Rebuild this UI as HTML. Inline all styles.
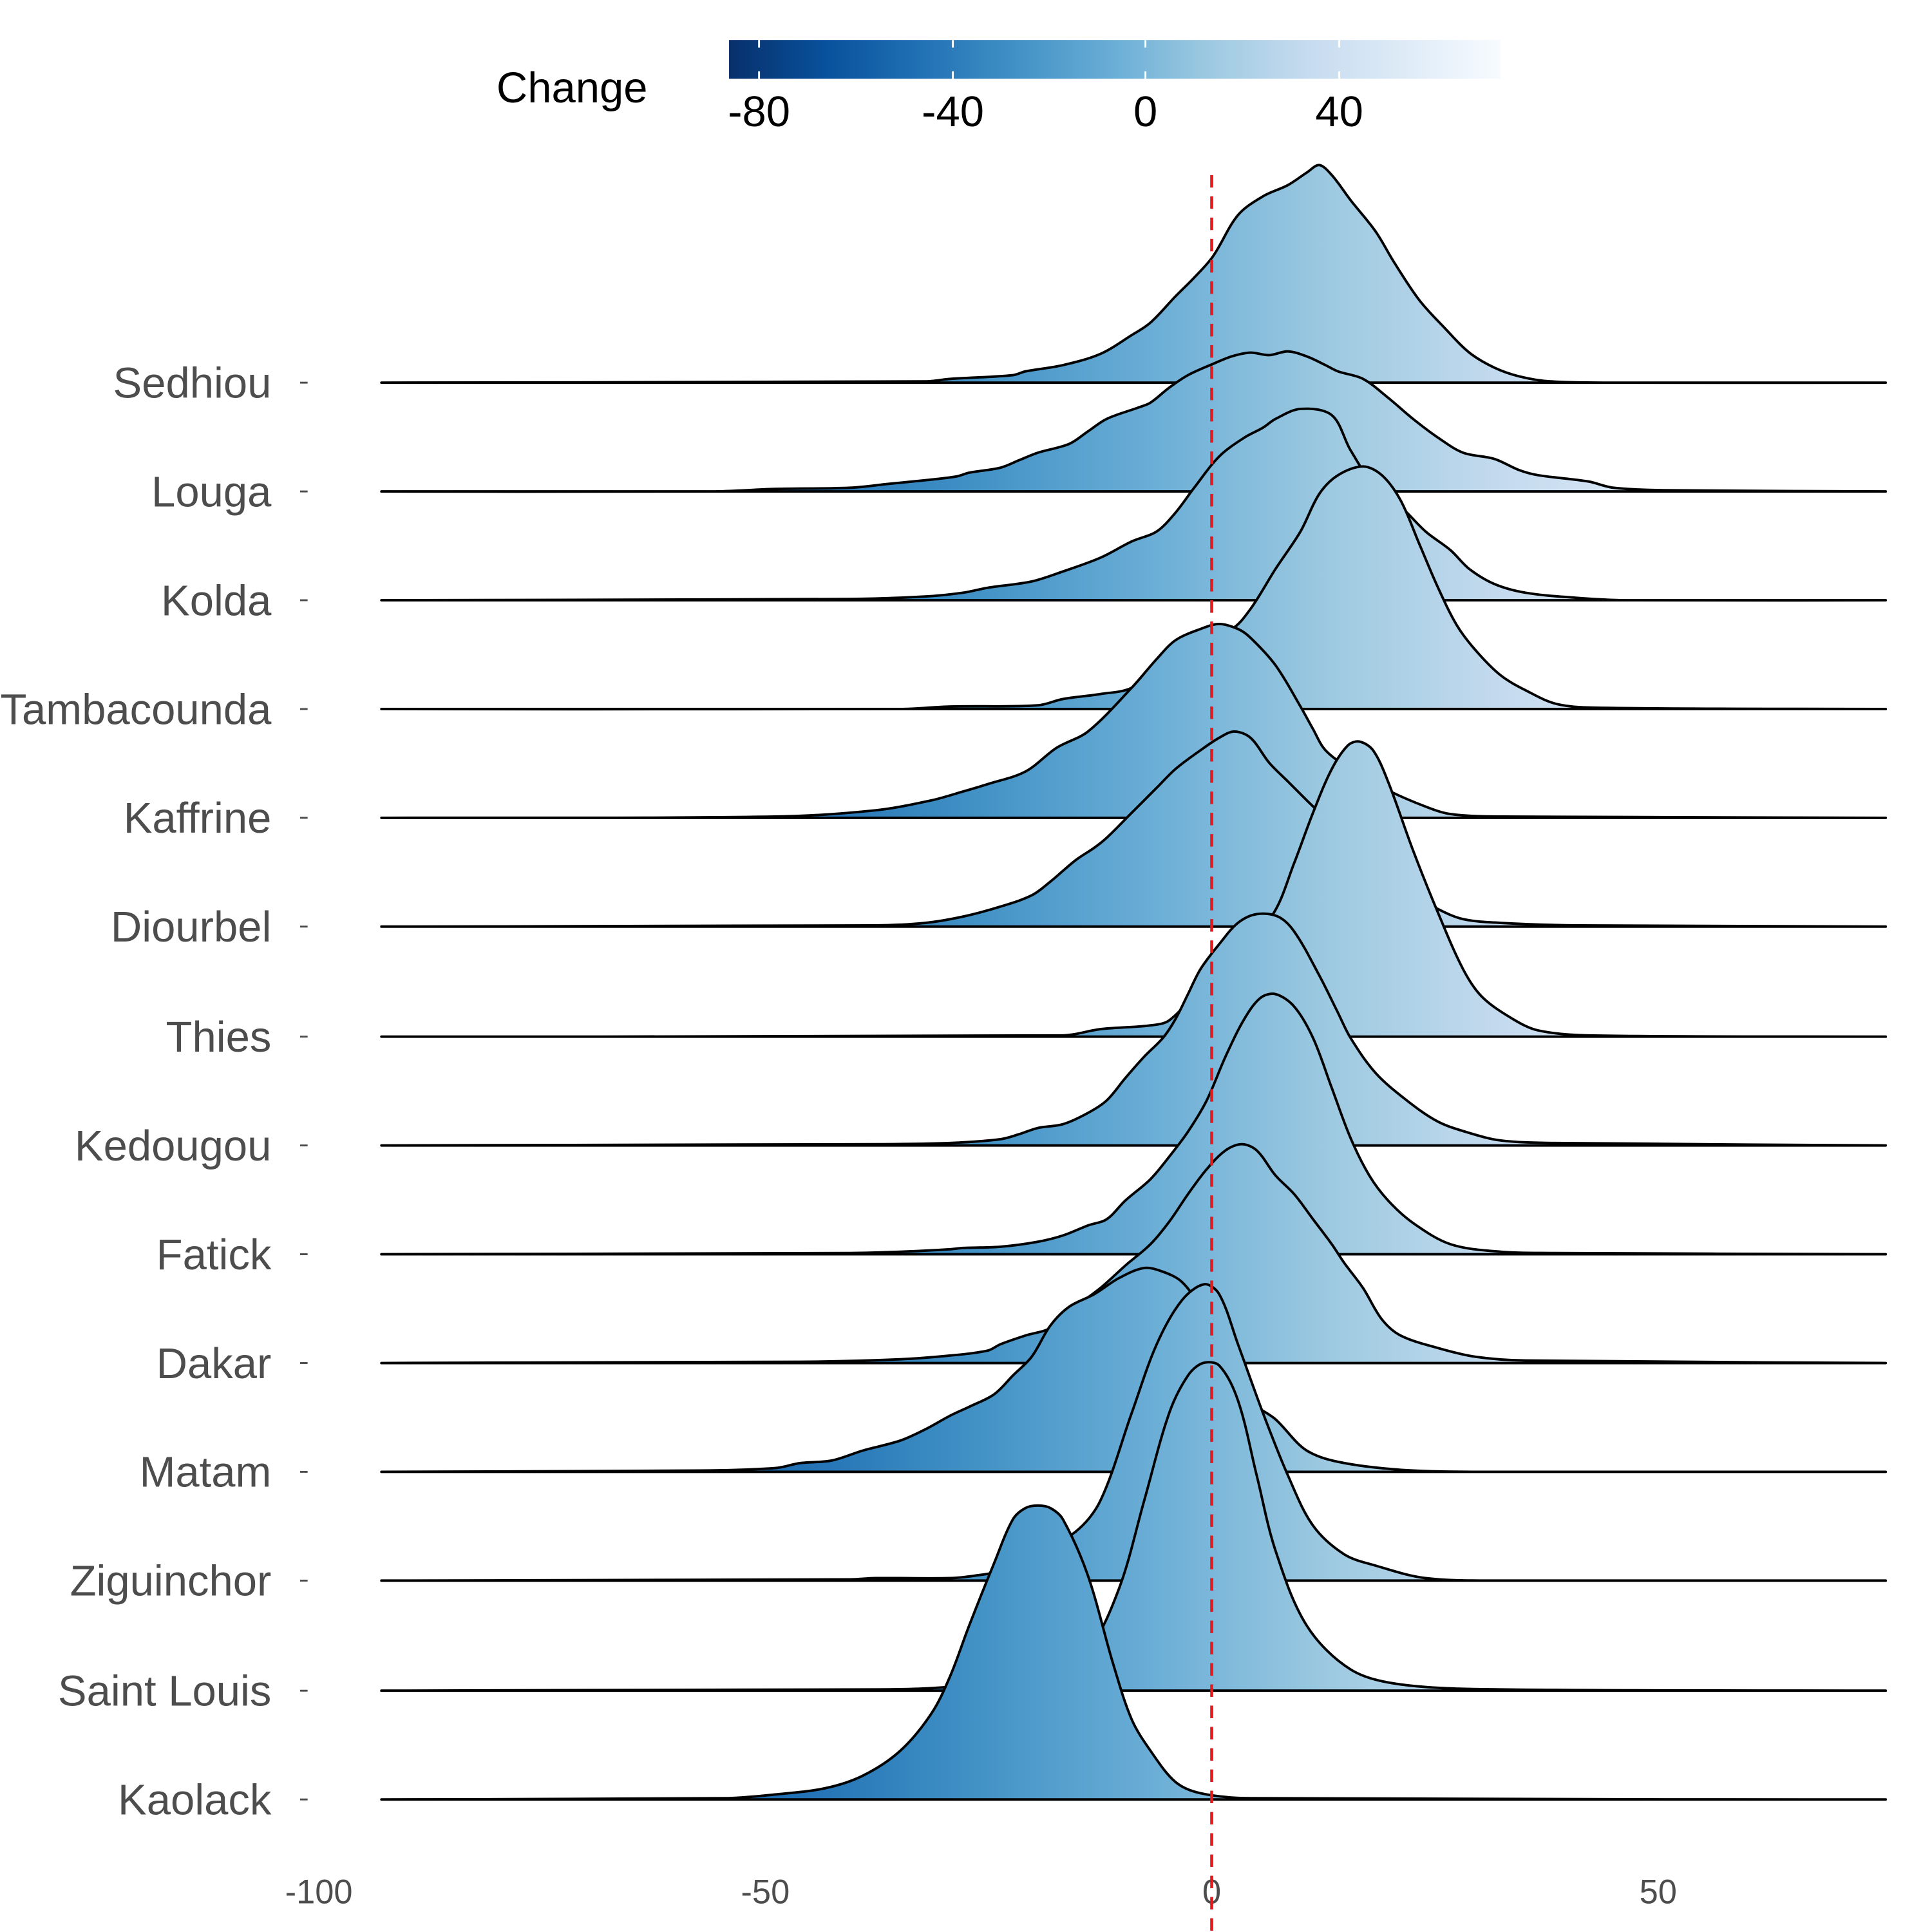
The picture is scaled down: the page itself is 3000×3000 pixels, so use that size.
<!DOCTYPE html>
<html><head><meta charset="utf-8"><style>html,body{margin:0;padding:0;background:#fff}svg{display:block}</style></head>
<body>
<svg id="s" xmlns="http://www.w3.org/2000/svg" width="3000" height="3000" viewBox="0 0 1545 1545">
<defs>
<linearGradient id="g" gradientUnits="userSpaceOnUse" x1="353.5" y1="0" x2="1493" y2="0">
<stop offset="0" stop-color="#08306b"/><stop offset="0.125" stop-color="#08519c"/><stop offset="0.25" stop-color="#2171b5"/><stop offset="0.375" stop-color="#4292c6"/><stop offset="0.5" stop-color="#6baed6"/><stop offset="0.625" stop-color="#9ecae1"/><stop offset="0.75" stop-color="#c6dbef"/><stop offset="0.875" stop-color="#deebf7"/><stop offset="1" stop-color="#f7fbff"/>
</linearGradient>
<linearGradient id="cb" x1="0" y1="0" x2="1" y2="0">
<stop offset="0" stop-color="#08306b"/><stop offset="0.125" stop-color="#08519c"/><stop offset="0.25" stop-color="#2171b5"/><stop offset="0.375" stop-color="#4292c6"/><stop offset="0.5" stop-color="#6baed6"/><stop offset="0.625" stop-color="#9ecae1"/><stop offset="0.75" stop-color="#c6dbef"/><stop offset="0.875" stop-color="#deebf7"/><stop offset="1" stop-color="#f7fbff"/>
</linearGradient>
</defs>
<g font-family="Liberation Sans, Arial, sans-serif">
<text x="397" y="82" font-size="34.5" fill="#000">Change</text>
<rect x="583" y="32" width="617" height="31" fill="url(#cb)"/>
<g stroke="#fff" stroke-width="1.5"><line x1="607" y1="32" x2="607" y2="38"/><line x1="607" y1="57" x2="607" y2="63"/><line x1="762" y1="32" x2="762" y2="38"/><line x1="762" y1="57" x2="762" y2="63"/><line x1="916" y1="32" x2="916" y2="38"/><line x1="916" y1="57" x2="916" y2="63"/><line x1="1071" y1="32" x2="1071" y2="38"/><line x1="1071" y1="57" x2="1071" y2="63"/></g>
<g font-size="34.5" fill="#000" text-anchor="middle"><text x="607" y="101">-80</text><text x="762" y="101">-40</text><text x="916" y="101">0</text><text x="1071" y="101">40</text></g>
<g font-size="34.5" fill="#4d4d4d" text-anchor="end">
<text x="217" y="318">Sedhiou</text><text x="217" y="405">Louga</text><text x="217" y="492">Kolda</text><text x="217" y="579">Tambacounda</text><text x="217" y="666">Kaffrine</text><text x="217" y="753">Diourbel</text><text x="217" y="841">Thies</text><text x="217" y="928">Kedougou</text><text x="217" y="1015">Fatick</text><text x="217" y="1102">Dakar</text><text x="217" y="1189">Matam</text><text x="217" y="1276">Ziguinchor</text><text x="217" y="1364">Saint Louis</text><text x="217" y="1451">Kaolack</text>
</g>
<g stroke="#4d4d4d" stroke-width="1.5"><line x1="240" y1="306" x2="246" y2="306"/><line x1="240" y1="393" x2="246" y2="393"/><line x1="240" y1="480" x2="246" y2="480"/><line x1="240" y1="567" x2="246" y2="567"/><line x1="240" y1="654" x2="246" y2="654"/><line x1="240" y1="741" x2="246" y2="741"/><line x1="240" y1="829" x2="246" y2="829"/><line x1="240" y1="916" x2="246" y2="916"/><line x1="240" y1="1003" x2="246" y2="1003"/><line x1="240" y1="1090" x2="246" y2="1090"/><line x1="240" y1="1177" x2="246" y2="1177"/><line x1="240" y1="1264" x2="246" y2="1264"/><line x1="240" y1="1352" x2="246" y2="1352"/><line x1="240" y1="1439" x2="246" y2="1439"/></g>
<g font-size="27" fill="#4d4d4d" text-anchor="middle"><text x="255" y="1522">-100</text><text x="612" y="1522">-50</text><text x="969" y="1522">0</text><text x="1326" y="1522">50</text></g>
</g>
<g id="ridges" fill="url(#g)" stroke="#000" stroke-width="2" stroke-linejoin="round">
<polygon points="305,306 740,305 760,303 810,300 820,297 850,292 880,283 905,268 920,258 940,237 955,222 970,205 990,172 1010,157 1030,148 1045,138 1055,132 1065,140 1080,160 1100,185 1115,210 1135,240 1155,262 1175,282 1195,294 1215,301 1240,305 1300,306 1508,306"/>
<polygon points="305,393 570,393 620,391 680,390 710,387 740,384 765,381 775,378 800,374 815,368 830,362 855,355 870,345 885,335 910,326 920,322 935,310 950,300 970,291 985,285 1000,282 1015,284 1030,281 1045,285 1060,292 1070,297 1090,303 1110,318 1130,335 1150,350 1170,362 1195,367 1215,376 1230,380 1270,385 1290,390 1330,392 1508,393"/>
<polygon points="305,480 680,479 740,477 770,474 790,470 825,465 850,457 880,446 905,433 925,425 940,410 955,390 975,365 995,350 1010,342 1020,335 1040,327 1065,332 1080,360 1100,390 1120,405 1140,425 1160,440 1175,455 1195,467 1220,474 1260,478 1300,480 1508,480"/>
<polygon points="305,567 720,567 760,565 830,564 850,559 880,555 905,550 930,530 960,510 985,503 1000,487 1020,455 1040,425 1055,395 1070,380 1090,373 1105,380 1120,400 1135,435 1150,470 1165,500 1180,520 1200,540 1220,552 1245,563 1280,566 1508,567"/>
<polygon points="305,654 620,653 700,648 745,640 770,633 790,627 820,617 845,598 870,585 905,550 925,527 940,512 960,503 975,499 990,503 1000,510 1020,532 1040,565 1050,583 1060,600 1080,615 1110,632 1140,645 1160,651 1200,653 1508,654"/>
<polygon points="305,741 700,740 740,738 770,733 800,725 825,716 840,705 860,688 875,678 885,670 905,650 925,630 940,615 960,600 975,590 987,585 1000,590 1015,610 1030,625 1045,640 1060,655 1080,680 1100,700 1130,715 1150,727 1170,735 1200,738 1260,740 1508,741"/>
<polygon points="305,829 850,828 880,823 920,820 935,816 960,790 990,760 1018,731 1035,690 1050,650 1065,615 1078,596 1087,593 1098,600 1110,625 1130,680 1150,730 1170,775 1185,797 1210,815 1230,824 1270,828 1508,829"/>
<polygon points="305,916 700,915 760,914 800,911 815,907 830,902 850,899 870,890 885,880 900,862 915,845 930,830 940,815 950,795 960,775 975,755 990,738 1005,731 1022,733 1035,745 1055,780 1070,810 1080,830 1100,858 1125,880 1150,897 1175,906 1200,912 1240,914 1508,916"/>
<polygon points="305,1003 680,1002 720,1001 760,999 770,998 800,997 830,993 850,988 870,980 885,975 900,960 920,943 935,925 950,905 965,880 980,845 995,815 1008,798 1020,795 1035,805 1050,830 1065,870 1080,910 1095,940 1110,960 1130,978 1160,995 1200,1001 1240,1002 1508,1003"/>
<polygon points="305,1090 640,1089 720,1087 760,1084 790,1080 800,1075 820,1068 840,1062 860,1045 880,1030 900,1012 920,995 935,977 950,955 965,935 980,920 993,915 1005,920 1020,940 1035,955 1050,975 1065,995 1075,1010 1090,1030 1105,1055 1120,1068 1150,1078 1180,1085 1220,1088 1508,1090"/>
<polygon points="305,1177 560,1176 620,1174 640,1170 665,1168 690,1160 720,1152 740,1143 760,1132 775,1125 795,1115 810,1100 825,1085 840,1060 855,1045 875,1035 895,1022 915,1014 930,1017 945,1025 960,1045 980,1080 1000,1120 1020,1135 1045,1160 1075,1170 1130,1176 1200,1177 1508,1177"/>
<polygon points="305,1264 680,1263 700,1262 760,1262 780,1260 800,1256 830,1240 860,1225 880,1200 905,1130 925,1075 945,1040 963,1027 975,1035 990,1075 1010,1130 1030,1180 1050,1220 1075,1243 1100,1252 1140,1262 1200,1264 1508,1264"/>
<polygon points="305,1352 700,1351 745,1350 800,1345 840,1340 870,1320 895,1270 915,1200 935,1130 950,1100 962,1090 975,1092 990,1120 1005,1180 1020,1240 1045,1300 1080,1335 1120,1347 1200,1351 1508,1352"/>
<polygon points="305,1439 580,1438 620,1435 660,1430 690,1420 720,1400 745,1370 760,1340 775,1300 795,1250 810,1215 820,1206 830,1204 840,1206 850,1215 870,1260 890,1330 905,1375 920,1400 940,1425 960,1434 1000,1438 1508,1439"/>
</g>
<line x1="969" y1="140" x2="969" y2="1545" stroke="#e41a1c" stroke-width="2.4" stroke-dasharray="10,7"/>
</svg>
<script>
(function(){
var NS="http://www.w3.org/2000/svg";
function dist(a,b){return Math.sqrt((a[0]-b[0])*(a[0]-b[0])+(a[1]-b[1])*(a[1]-b[1]));}
var polys=document.querySelectorAll("#ridges polygon");
for(var i=0;i<polys.length;i++){
 var p=polys[i];
 var pts=p.getAttribute("points").trim().split(/\s+/).map(function(s){var a=s.split(",");return [+a[0],+a[1]];});
 var n=pts.length;
 var d="M"+pts[0][0]+","+pts[0][1];
 for(var k=0;k<n-1;k++){
  var p1=pts[k],p2=pts[k+1];
  var d12=dist(p1,p2);
  var c1x,c1y,c2x,c2y;
  if(k===0){c1x=p1[0]+(p2[0]-p1[0])/3;c1y=p1[1]+(p2[1]-p1[1])/3;}
  else{var p0=pts[k-1];var d01=dist(p0,p1);var f=d12/(3*(d01+d12));c1x=p1[0]+(p2[0]-p0[0])*f;c1y=p1[1]+(p2[1]-p0[1])*f;}
  if(k+2>=n){c2x=p2[0]-(p2[0]-p1[0])/3;c2y=p2[1]-(p2[1]-p1[1])/3;}
  else{var p3=pts[k+2];var d23=dist(p2,p3);var g=d12/(3*(d12+d23));c2x=p2[0]-(p3[0]-p1[0])*g;c2y=p2[1]-(p3[1]-p1[1])*g;}
  d+=" C"+c1x.toFixed(2)+","+c1y.toFixed(2)+" "+c2x.toFixed(2)+","+c2y.toFixed(2)+" "+p2[0]+","+p2[1];
 }
 var path=document.createElementNS(NS,"path");
 path.setAttribute("d",d+" Z");
 p.parentNode.replaceChild(path,p);
}
})();
</script>
</body></html>
